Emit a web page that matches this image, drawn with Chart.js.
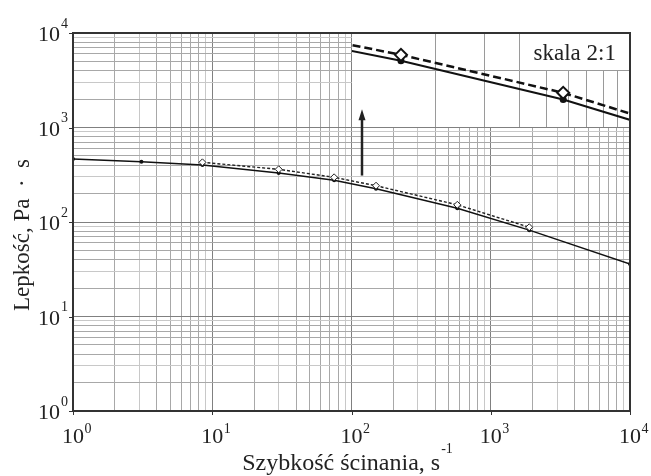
<!DOCTYPE html>
<html lang="pl">
<head>
<meta charset="UTF-8">
<title>Lepkość a szybkość ścinania</title>
<script src="https://cdn.jsdelivr.net/npm/chart.js"></script>
<style>
  body { margin: 0; background: #fff; }
  #wrap { position: relative; width: 651px; height: 476px; }
  #wrap canvas { position: absolute; left: 0; top: 0; }
  #main-chart { z-index: 2; }
  #inset-chart { z-index: 1; }
</style>
</head>
<body>
<div id="wrap">
  <canvas id="inset-chart"></canvas>
  <canvas id="main-chart" width="651" height="476"></canvas>
</div>
<script>
// szybkość ścinania [1/s] i lepkość [Pa·s]
const shearRates = [1, 3.1, 8.5, 30, 75, 150, 575, 1890, 10000];
const viscosity = [464, 435, 401, 330, 276, 225, 140, 82, 36];
const diamondRates = [8.5, 30, 75, 150, 575, 1890];
const diamondViscosity = [428, 361, 297, 242, 152, 88];

// osie
const decadeExps = [0, 1, 2, 3, 4];
const minorSteps = [2, 3, 4, 5, 6, 7, 8, 9];
const insetXTicks = [100, 200, 300, 400, 500, 600, 700, 800, 900, 1000];
const insetYTicks = [100, 200, 316.23];
const insetRange = { xMin: 100, xMax: 1000, yMin: 100, yMax: 316.23 };
const zoomBox = { xMin: 100, xMax: 10000, yMin: 1000, yMax: 10000 };
const skalaBox = { xMin: 400, yMin: 200 };
const arrow = { x: 119, from: 310, to: 1560 };

const xTitle = 'Szybkość ścinania, s';
const xTitleExp = '-1';
const yTitle = 'Lepkość, Pa  ·  s';
const skalaText = 'skala 2:1';

const serif = '"Liberation Serif", "Times New Roman", serif';

function logTicks() {
    const t = [];
    decadeExps.forEach((e, i) => {
        const d = Math.pow(10, e);
        t.push({ value: d });
        if (i < decadeExps.length - 1) minorSteps.forEach(m => t.push({ value: m * d }));
    });
    return t;
}

function significand(v) {
    const e = Math.floor(Math.log10(v) + 1e-9);
    return Math.round(v / Math.pow(10, e));
}

function gridColor(v) {
    const s = significand(v);
    if (s === 1) return '#808080';
    return (s === 3 || s === 9) ? '#c8c8c8' : '#a8a8a8';
}

const pointsOf = (xs, ys) => xs.map((x, i) => ({ x: x, y: ys[i] }));

// prostokąt, w którym siedzi powiększenie
function insetRect(chart) {
    const xs = chart.scales.x, ys = chart.scales.y;
    const left = Math.round(xs.getPixelForValue(zoomBox.xMin) - 0.5) + 1;
    const bottom = Math.round(ys.getPixelForValue(zoomBox.yMin) - 0.5);
    const top = Math.round(chart.chartArea.top);
    const right = Math.round(chart.chartArea.right);
    return { left: left, top: top, width: right - left, height: bottom - top };
}

function drawPow(ctx, exp, x, y, side) {
    ctx.font = '22px ' + serif;
    const wBase = ctx.measureText('10').width;
    ctx.font = '14px ' + serif;
    const wExp = ctx.measureText(String(exp)).width;
    ctx.textBaseline = 'alphabetic';
    if (side === 'bottom') {
        ctx.font = '22px ' + serif;
        ctx.textAlign = 'center';
        ctx.fillText('10', x, y + 32);
        ctx.font = '14px ' + serif;
        ctx.textAlign = 'left';
        ctx.fillText(String(exp), x + wBase / 2 + 0.5, y + 22);
    } else {
        ctx.font = '14px ' + serif;
        ctx.textAlign = 'right';
        ctx.fillText(String(exp), x - 5, y - 5.5);
        ctx.font = '22px ' + serif;
        ctx.fillText('10', x - 6 - wExp, y + 8);
    }
}

const mainDecor = {
    id: 'mainDecor',
    beforeDatasetsDraw(chart) {
        const r = insetRect(chart);
        chart.ctx.clearRect(r.left, r.top, r.width, r.height);
    },
    afterDraw(chart) {
        const { ctx, chartArea: a, scales: { x, y } } = chart;
        ctx.save();
        ctx.strokeStyle = '#333';
        ctx.fillStyle = '#222';

        // znaczniki dekad
        ctx.lineWidth = 1;
        ctx.beginPath();
        decadeExps.forEach(e => {
            const px = Math.round(x.getPixelForValue(Math.pow(10, e))) + 0.5;
            ctx.moveTo(px, a.bottom);
            ctx.lineTo(px, a.bottom + 4);
            const py = Math.round(y.getPixelForValue(Math.pow(10, e))) + 0.5;
            ctx.moveTo(a.left - 4, py);
            ctx.lineTo(a.left, py);
        });
        ctx.stroke();

        // ramka
        ctx.lineWidth = 2;
        ctx.strokeRect(a.left, a.top, a.right - a.left, a.bottom - a.top);

        // strzałka
        const ax = Math.round(x.getPixelForValue(arrow.x));
        const y0 = y.getPixelForValue(arrow.from);
        const y1 = y.getPixelForValue(arrow.to);
        ctx.lineWidth = 2.5;
        ctx.strokeStyle = '#222';
        ctx.beginPath();
        ctx.moveTo(ax, y0);
        ctx.lineTo(ax, y1 + 8);
        ctx.stroke();
        ctx.beginPath();
        ctx.moveTo(ax, y1);
        ctx.lineTo(ax - 3.5, y1 + 11);
        ctx.lineTo(ax + 3.5, y1 + 11);
        ctx.closePath();
        ctx.fill();

        // opisy osi
        decadeExps.forEach(e => {
            drawPow(ctx, e, x.getPixelForValue(Math.pow(10, e)), a.bottom, 'bottom');
            drawPow(ctx, e, a.left, y.getPixelForValue(Math.pow(10, e)), 'left');
        });

        ctx.font = '24px ' + serif;
        const w1 = ctx.measureText(xTitle).width;
        ctx.font = '14px ' + serif;
        const w2 = ctx.measureText(xTitleExp).width;
        const cx = (a.left + a.right) / 2 - 4;
        const sx = cx - (w1 + w2 + 1) / 2;
        ctx.textAlign = 'left';
        ctx.textBaseline = 'alphabetic';
        ctx.font = '24px ' + serif;
        ctx.fillText(xTitle, sx, a.bottom + 59);
        ctx.font = '14px ' + serif;
        ctx.fillText(xTitleExp, sx + w1 + 1, a.bottom + 42);

        ctx.translate(a.left - 44.5, (a.top + a.bottom) / 2 + 13);
        ctx.rotate(-Math.PI / 2);
        ctx.font = '23px ' + serif;
        ctx.textAlign = 'center';
        ctx.fillText(yTitle, 0, 0);
        ctx.restore();
    }
};

const mainChart = new Chart(document.getElementById('main-chart'), {
    type: 'line',
    data: {
        datasets: [
            {
                data: pointsOf(diamondRates, diamondViscosity),
                borderColor: '#222',
                borderWidth: 1.4,
                borderDash: [3, 2],
                pointStyle: 'rectRot',
                pointRadius: 3.5,
                pointBackgroundColor: '#fff',
                pointBorderColor: '#222',
                pointBorderWidth: 1,
                tension: 0
            },
            {
                data: pointsOf(shearRates, viscosity),
                borderColor: '#111',
                borderWidth: 1.5,
                pointRadius: 2,
                pointBackgroundColor: '#111',
                pointBorderColor: '#111',
                pointBorderWidth: 0,
                tension: 0
            }
        ]
    },
    options: {
        responsive: false,
        animation: false,
        devicePixelRatio: 1,
        layout: { autoPadding: false, padding: { left: 73, right: 21, top: 33, bottom: 65 } },
        plugins: { legend: { display: false }, tooltip: { enabled: false } },
        events: [],
        scales: {
            x: {
                type: 'logarithmic',
                min: 1,
                max: 10000,
                afterBuildTicks: axis => { axis.ticks = logTicks(); },
                ticks: { display: false },
                grid: { drawTicks: false, color: c => gridColor(c.tick.value), lineWidth: 1 },
                border: { display: false }
            },
            y: {
                type: 'logarithmic',
                min: 1,
                max: 10000,
                afterBuildTicks: axis => { axis.ticks = logTicks(); },
                ticks: { display: false },
                grid: { drawTicks: false, color: c => gridColor(c.tick.value), lineWidth: 1 },
                border: { display: false }
            }
        }
    },
    plugins: [mainDecor]
});

// powiększenie 2:1
const insetDecor = {
    id: 'insetDecor',
    beforeDatasetsDraw(chart) {
        const { ctx, chartArea: a, scales: { x, y } } = chart;
        const bx = Math.round(x.getPixelForValue(skalaBox.xMin)) + 0.5;
        const by = Math.round(y.getPixelForValue(skalaBox.yMin)) + 0.5;
        ctx.save();
        ctx.fillStyle = '#fff';
        ctx.fillRect(bx, a.top, a.right - bx, by - a.top);
        ctx.strokeStyle = '#9a9a9a';
        ctx.lineWidth = 1;
        ctx.beginPath();
        ctx.moveTo(bx, a.top);
        ctx.lineTo(bx, by);
        ctx.lineTo(a.right, by);
        ctx.stroke();
        ctx.fillStyle = '#222';
        ctx.font = '23px ' + serif;
        ctx.textAlign = 'center';
        ctx.textBaseline = 'alphabetic';
        ctx.fillText(skalaText, (bx + a.right) / 2, (a.top + by) / 2 + 8);
        ctx.restore();
    }
};

const r = insetRect(mainChart);
const insetCanvas = document.getElementById('inset-chart');
insetCanvas.width = r.width;
insetCanvas.height = r.height;
insetCanvas.style.left = r.left + 'px';
insetCanvas.style.top = r.top + 'px';

const insetGrid = (c, lo, hi) => (c.tick.value <= lo || c.tick.value >= hi) ? 'rgba(0,0,0,0)' : '#9a9a9a';

new Chart(insetCanvas, {
    type: 'line',
    data: {
        datasets: [
            {
                data: pointsOf(diamondRates, diamondViscosity),
                borderColor: '#111',
                borderWidth: 2.5,
                borderDash: [8, 4],
                pointStyle: 'rectRot',
                pointRadius: 6,
                pointBackgroundColor: '#fff',
                pointBorderColor: '#111',
                pointBorderWidth: 2,
                tension: 0,
                clip: 0
            },
            {
                data: pointsOf(shearRates, viscosity),
                borderColor: '#111',
                borderWidth: 2,
                pointRadius: 3.5,
                pointBackgroundColor: '#111',
                pointBorderWidth: 0,
                tension: 0,
                clip: 0
            }
        ]
    },
    options: {
        responsive: false,
        animation: false,
        devicePixelRatio: 1,
        layout: { autoPadding: false, padding: 0 },
        plugins: { legend: { display: false }, tooltip: { enabled: false } },
        events: [],
        scales: {
            x: {
                type: 'logarithmic',
                min: insetRange.xMin,
                max: insetRange.xMax,
                afterBuildTicks: axis => { axis.ticks = insetXTicks.map(v => ({ value: v })); },
                ticks: { display: false },
                grid: { drawTicks: false, color: c => insetGrid(c, insetRange.xMin, insetRange.xMax) },
                border: { display: false }
            },
            y: {
                type: 'logarithmic',
                min: insetRange.yMin,
                max: insetRange.yMax,
                afterBuildTicks: axis => { axis.ticks = insetYTicks.map(v => ({ value: v })); },
                ticks: { display: false },
                grid: { drawTicks: false, color: c => insetGrid(c, insetRange.yMin, insetRange.yMax) },
                border: { display: false }
            }
        }
    },
    plugins: [insetDecor]
});
</script>
</body>
</html>
